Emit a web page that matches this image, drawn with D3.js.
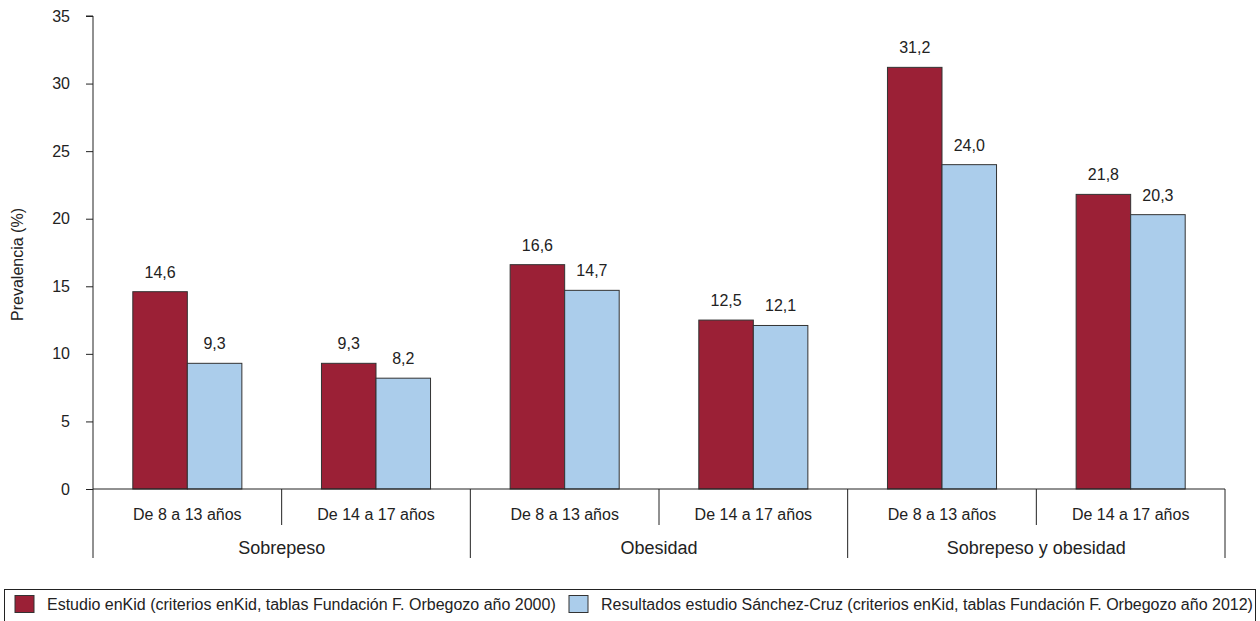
<!DOCTYPE html>
<html><head><meta charset="utf-8">
<script src="https://cdn.jsdelivr.net/npm/d3@7"></script>
<style>body{margin:0;background:#fff}svg{display:block;font-family:"Liberation Sans",Arial,sans-serif}</style>
</head><body><svg id="c" width="1260" height="621"></svg>
<script>
const groups = ["Sobrepeso", "Obesidad", "Sobrepeso y obesidad"];
const ages = ["De 8 a 13 años", "De 14 a 17 años"];
const seriesNames = [
  "Estudio enKid (criterios enKid, tablas Fundación F. Orbegozo año 2000)",
  "Resultados estudio Sánchez-Cruz (criterios enKid, tablas Fundación F. Orbegozo año 2012)"
];
const enKid = [14.6, 9.3, 16.6, 12.5, 31.2, 21.8];
const sanchez = [9.3, 8.2, 14.7, 12.1, 24.0, 20.3];
const yTicks = [0, 5, 10, 15, 20, 25, 30, 35];
const colors = ["#9b2036", "#abcdeb"];

const svg = d3.select("#c");
const L = 93, R = 1225, T = 16, B = 489;
const cats = [];
groups.forEach((g, gi) => ages.forEach((a, ai) => cats.push(gi * 2 + ai)));
const x = d3.scaleBand().domain(cats).range([L, R]).paddingInner(0).paddingOuter(0);
const xs = d3.scaleBand().domain([0, 1]).range([0, x.bandwidth()]).paddingInner(0).paddingOuter(0.73);
const y = d3.scaleLinear().domain([0, 35]).range([B, T]);
const fmt = v => v.toFixed(1).replace(".", ",");
const series = [enKid, sanchez];

// bars
series.forEach((vals, si) => {
  svg.append("g").selectAll("rect").data(vals).join("rect")
    .attr("x", (d, i) => x(i) + xs(si))
    .attr("y", d => y(d))
    .attr("width", xs.bandwidth())
    .attr("height", d => B - y(d))
    .attr("fill", colors[si])
    .attr("stroke", "#333").attr("stroke-width", 1);
  svg.append("g").selectAll("text").data(vals).join("text")
    .attr("x", (d, i) => x(i) + xs(si) + xs.bandwidth() / 2)
    .attr("y", d => y(d) - 14)
    .attr("text-anchor", "middle")
    .attr("font-size", 16).attr("fill", "#222")
    .text(fmt);
});

// y axis
const ya = svg.append("g").attr("transform", `translate(${L},0)`)
  .call(d3.axisLeft(y).tickValues(yTicks).tickSize(7).tickPadding(16).tickFormat(d3.format("d")));
ya.select(".domain").attr("stroke", "#222").attr("d", `M-7,${T}H0V${B}`);
ya.selectAll(".tick line").attr("stroke", "#222");
ya.selectAll("text").attr("font-size", 16).attr("fill", "#222").attr("font-family", "Liberation Sans, Arial, sans-serif");

svg.append("text").attr("transform", `translate(23,${(T + B) / 2 + 12}) rotate(-90)`)
  .attr("text-anchor", "middle").attr("font-size", 16).attr("fill", "#222")
  .text("Prevalencia (%)");

// x axis baseline
svg.append("line").attr("x1", L).attr("x2", R).attr("y1", B).attr("y2", B).attr("stroke", "#222");

// separators
const bounds = d3.range(cats.length + 1);
svg.append("g").selectAll("line").data(bounds).join("line")
  .attr("x1", i => i < cats.length ? x(i) : R)
  .attr("x2", i => i < cats.length ? x(i) : R)
  .attr("y1", B)
  .attr("y2", i => i % 2 === 0 ? 558 : 525)
  .attr("stroke", "#222");

// sub labels
svg.append("g").selectAll("text").data(cats).join("text")
  .attr("x", i => x(i) + x.bandwidth() / 2)
  .attr("y", 520)
  .attr("text-anchor", "middle").attr("font-size", 16).attr("fill", "#222")
  .text(i => ages[i % 2]);

// group labels
svg.append("g").selectAll("text").data(groups).join("text")
  .attr("x", (g, gi) => x(gi * 2) + x.bandwidth())
  .attr("y", 554)
  .attr("text-anchor", "middle").attr("font-size", 18).attr("fill", "#222")
  .text(g => g);

// legend
const lg = svg.append("g");
lg.append("rect").attr("x", 4.5).attr("y", 589.5).attr("width", 1251).attr("height", 40)
  .attr("fill", "none").attr("stroke", "#222");
const legX = [15, 569];
seriesNames.forEach((n, si) => {
  lg.append("rect").attr("x", legX[si]).attr("y", 595.5).attr("width", 19).attr("height", 17)
    .attr("fill", colors[si]).attr("stroke", "#333");
  lg.append("text").attr("x", legX[si] + 32).attr("y", 610)
    .attr("font-size", 16).attr("fill", "#222").text(n);
});
</script></body></html>
